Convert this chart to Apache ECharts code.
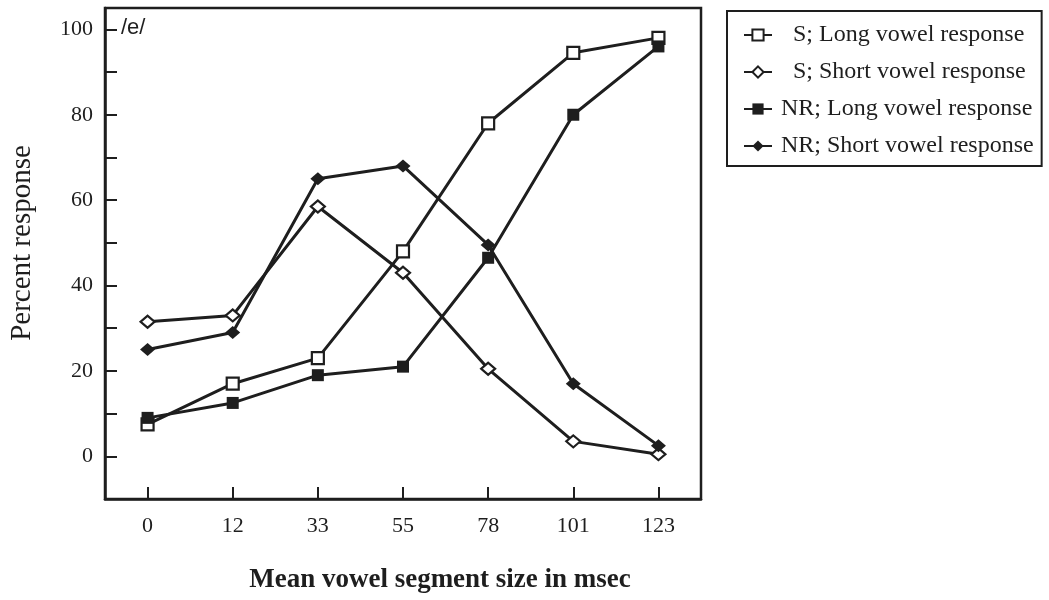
<!DOCTYPE html>
<html>
<head>
<meta charset="utf-8">
<script src="https://cdn.jsdelivr.net/npm/echarts@6/dist/echarts.min.js"></script>
<style>
  html, body { margin: 0; padding: 0; background: #ffffff; }
  #chart { width: 1049px; height: 600px; }
</style>
</head>
<body>
<div id="chart"></div>
<script>
// ---- data ----
const categories = ['0', '12', '33', '55', '78', '101', '123'];
const sLong   = [7.5, 17, 23, 48, 78, 94.5, 98];
const sShort  = [31.5, 33, 58.5, 43, 20.5, 3.5, 0.5];
const nrLong  = [9, 12.5, 19, 21, 46.5, 80, 96];
const nrShort = [25, 29, 65, 68, 49.5, 17, 2.5];
const seriesNames = [
  'S; Long vowel response',
  'S; Short vowel response',
  'NR; Long vowel response',
  'NR; Short vowel response'
];
const yTicks = [0, 20, 40, 60, 80, 100];
const xTitle = 'Mean vowel segment size in msec';
const yTitle = 'Percent response';
const panelLabel = '/e/';

const INK = '#1e1e1e';
const SERIF = '"Liberation Serif", "Times New Roman", serif';

function lineSeries(name, data, symbol, size, filled) {
  return {
    name: name,
    type: 'line',
    data: data,
    symbol: symbol,
    symbolSize: size,
    showSymbol: true,
    lineStyle: { color: INK, width: 3 },
    itemStyle: {
      color: filled ? INK : '#ffffff',
      borderColor: INK,
      borderWidth: filled ? 0 : 2.2
    },
    emphasis: { disabled: true },
    animation: false
  };
}

const chart = echarts.init(document.getElementById('chart'), null, { renderer: 'canvas' });
chart.setOption({
  backgroundColor: '#ffffff',
  animation: false,
  title: {
    text: panelLabel,
    left: 121,
    top: 17,
    padding: 0,
    textStyle: { fontFamily: '"Liberation Sans", Arial, sans-serif', fontSize: 22, fontWeight: 'normal', color: INK }
  },
  legend: {
    orient: 'vertical',
    left: 727,
    top: 11,
    padding: [12, 8, 8, 16],
    itemWidth: 28,
    itemHeight: 14,
    itemGap: 13,
    selectedMode: false,
    borderColor: INK,
    borderWidth: 2,
    data: seriesNames,
    formatter: function (name) {
      return (name.indexOf('S;') === 0 ? '{s|' : '{n|') + name + '}';
    },
    textStyle: {
      fontFamily: SERIF, fontSize: 24, color: INK,
      rich: {
        s: { fontFamily: SERIF, fontSize: 24, color: INK, lineHeight: 24, padding: [0, 0, 0, 16] },
        n: { fontFamily: SERIF, fontSize: 24, color: INK, lineHeight: 24, padding: [0, 0, 0, 4] }
      }
    }
  },
  grid: {
    left: 104, right: 348, top: 8, bottom: 101,
    show: true, borderColor: INK, borderWidth: 2.5, backgroundColor: 'transparent'
  },
  xAxis: {
    type: 'category',
    data: categories,
    boundaryGap: true,
    axisLine: { show: true, onZero: false, lineStyle: { color: INK, width: 2.5 } },
    axisTick: { show: true, inside: true, alignWithLabel: true, length: 12, lineStyle: { color: INK, width: 2 } },
    axisLabel: { fontFamily: SERIF, fontSize: 22, color: INK, margin: 16 },
    splitLine: { show: false },
    name: xTitle,
    nameLocation: 'middle',
    nameGap: 68,
    nameTextStyle: { fontFamily: SERIF, fontSize: 27, fontWeight: 'bold', color: INK, padding: [0, 0, 0, 74] }
  },
  yAxis: {
    type: 'value',
    min: -10,
    max: 105,
    interval: 10,
    axisLine: { show: true, onZero: false, lineStyle: { color: INK, width: 2.5 } },
    axisTick: { show: true, inside: true, length: 12, lineStyle: { color: INK, width: 2 } },
    axisLabel: {
      fontFamily: SERIF, fontSize: 22, color: INK, margin: 12,
      formatter: function (v) { return yTicks.indexOf(v) >= 0 ? String(v) : ''; }
    },
    splitLine: { show: false },
    name: yTitle,
    nameLocation: 'middle',
    nameGap: 68,
    nameRotate: 90,
    nameTextStyle: { fontFamily: SERIF, fontSize: 29, fontWeight: 'normal', color: INK, padding: [0, 0, 0, 21] }
  },
  series: [
    lineSeries(seriesNames[0], sLong, 'rect', 12, false),
    lineSeries(seriesNames[1], sShort, 'diamond', [14, 12], false),
    lineSeries(seriesNames[2], nrLong, 'rect', 12, true),
    lineSeries(seriesNames[3], nrShort, 'diamond', [15, 13], true)
  ]
});
</script>
</body>
</html>
